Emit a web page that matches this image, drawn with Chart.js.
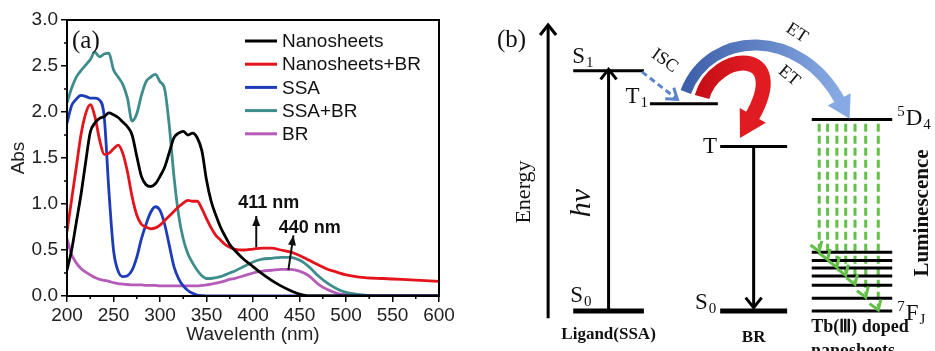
<!DOCTYPE html>
<html>
<head>
<meta charset="utf-8">
<script src="https://cdn.jsdelivr.net/npm/chart.js@4.4.1/dist/chart.umd.min.js"></script>
<style>
  html, body { margin: 0; padding: 0; background: #fff; }
  #wrap { position: relative; width: 935px; height: 351px; overflow: hidden; background: #fff; }
  #spectra { position: absolute; left: 0; top: 0; }
  #levels { position: absolute; left: 470px; top: 0; }
</style>
</head>
<body>
<div id="wrap">
  <canvas id="spectra" width="470" height="351"></canvas>
  <canvas id="levels" width="465" height="351"></canvas>
</div>
<script>
var sans = "'Liberation Sans', Arial, sans-serif";
var serif = "'Liberation Serif', 'Times New Roman', serif";

// ---- (a) absorption spectra ----
var wavelengths = [200,205,210,215,220,225,230,235,240,245,250,255,260,265,270,275,280,285,290,295,
  300,305,310,315,320,325,330,335,340,345,350,355,360,365,370,375,380,
  390,400,410,420,430,440,450,460,470,480,490,500,520,540,560,580,600];

var nanosheets = [0.28,0.50,0.80,1.10,1.45,1.78,1.88,1.93,1.95,1.99,1.97,1.94,1.89,1.84,1.75,1.52,1.30,1.21,1.19,1.22,
  1.30,1.40,1.56,1.72,1.77,1.79,1.75,1.77,1.72,1.58,1.26,1.03,0.88,0.75,0.65,0.56,0.50,
  0.40,0.32,0.24,0.17,0.11,0.06,0.02,0,0,0,0,0,0,0,0,0,0];
var nanosheetsBR = [0.70,1.05,1.40,1.75,1.98,2.08,1.95,1.70,1.54,1.55,1.60,1.64,1.55,1.35,1.08,0.88,0.78,0.75,0.73,0.74,
  0.77,0.82,0.87,0.92,0.97,1.01,1.04,1.03,1.03,0.95,0.84,0.74,0.66,0.61,0.56,0.53,0.51,
  0.50,0.51,0.52,0.52,0.50,0.48,0.44,0.39,0.34,0.29,0.26,0.23,0.20,0.19,0.18,0.17,0.16];
var ssa = [1.88,2.07,2.14,2.18,2.17,2.15,2.15,2.13,1.95,1.15,0.50,0.27,0.21,0.22,0.28,0.42,0.62,0.78,0.91,0.97,
  0.93,0.78,0.55,0.32,0.19,0.11,0.06,0.03,0.01,0.005,0,0,0,0,0,0,0,
  0,0,0,0,0,0,0,0,0,0,0,0,0,0,0,0,0];
var ssaBR = [2.10,2.26,2.38,2.45,2.51,2.57,2.65,2.60,2.63,2.64,2.46,2.38,2.30,2.15,1.90,1.98,2.18,2.33,2.38,2.41,
  2.33,2.25,1.85,1.30,0.88,0.62,0.46,0.36,0.28,0.22,0.19,0.19,0.20,0.21,0.23,0.25,0.27,
  0.32,0.37,0.40,0.41,0.42,0.42,0.39,0.32,0.22,0.14,0.08,0.04,0.01,0,0,0,0];
var br = [0.62,0.45,0.36,0.30,0.26,0.23,0.20,0.18,0.17,0.16,0.145,0.135,0.13,0.125,0.12,0.12,0.12,0.115,0.115,0.115,
  0.11,0.11,0.11,0.11,0.11,0.11,0.11,0.11,0.11,0.115,0.12,0.13,0.14,0.15,0.165,0.18,0.19,
  0.22,0.25,0.27,0.28,0.29,0.29,0.27,0.22,0.13,0.07,0.03,0.015,0.005,0,0,0,0];

var seriesNames = ['Nanosheets', 'Nanosheets+BR', 'SSA', 'SSA+BR', 'BR'];
var seriesValues = [nanosheets, nanosheetsBR, ssa, ssaBR, br];
var seriesColors = ['#000000', '#e3141c', '#1f3cb8', '#3f8c8c', '#b45cb8'];
var peakLabels = ['411 nm', '440 nm'];

// where the peak notes sit, in data units
var peakNotes = [
  { text: peakLabels[0], tx: 417, ty: 1.01, from: [403.5, 0.53], to: [403.5, 0.87] },
  { text: peakLabels[1], tx: 461, ty: 0.74, from: [438, 0.28], to: [443.5, 0.66] }
];

function arrowHead(ctx, tipX, tipY, ang, len, half, filled) {
  var bx = tipX - Math.cos(ang) * len, by = tipY - Math.sin(ang) * len;
  var nx = -Math.sin(ang) * half, ny = Math.cos(ang) * half;
  ctx.beginPath();
  ctx.moveTo(bx + nx, by + ny);
  ctx.lineTo(tipX, tipY);
  ctx.lineTo(bx - nx, by - ny);
  if (filled) { ctx.closePath(); ctx.fill(); } else { ctx.stroke(); }
}

var spectraDecor = {
  id: 'spectraDecor',
  afterDraw: function (chart) {
    var ctx = chart.ctx, a = chart.chartArea;
    var xs = chart.scales.x, ys = chart.scales.y;
    ctx.save();
    ctx.strokeStyle = '#000';
    ctx.lineWidth = 2;
    ctx.strokeRect(a.left, a.top, a.right - a.left, a.bottom - a.top);

    // minor ticks
    ctx.lineWidth = 1.5;
    ctx.beginPath();
    for (var v = 225; v < 600; v += 50) {
      var px = xs.getPixelForValue(v);
      ctx.moveTo(px, a.bottom); ctx.lineTo(px, a.bottom + 3);
    }
    for (var w = 0.25; w < 3; w += 0.5) {
      var py = ys.getPixelForValue(w);
      ctx.moveTo(a.left, py); ctx.lineTo(a.left - 3, py);
    }
    ctx.stroke();

    // legend
    ctx.font = '19px ' + sans;
    ctx.textBaseline = 'middle';
    ctx.textAlign = 'left';
    chart.data.datasets.forEach(function (ds, i) {
      var y = a.top + 21 + i * 23.2;
      ctx.strokeStyle = ds.borderColor;
      ctx.lineWidth = 3;
      ctx.beginPath();
      ctx.moveTo(a.left + 178, y); ctx.lineTo(a.left + 210, y);
      ctx.stroke();
      ctx.fillStyle = '#111';
      ctx.fillText(ds.label, a.left + 215, y + 1);
    });

    // peak notes
    ctx.fillStyle = '#111';
    ctx.strokeStyle = '#111';
    peakNotes.forEach(function (n) {
      var x0 = xs.getPixelForValue(n.from[0]), y0 = ys.getPixelForValue(n.from[1]);
      var x1 = xs.getPixelForValue(n.to[0]), y1 = ys.getPixelForValue(n.to[1]);
      ctx.lineWidth = 2;
      ctx.beginPath(); ctx.moveTo(x0, y0); ctx.lineTo(x1, y1); ctx.stroke();
      arrowHead(ctx, x1, y1, Math.atan2(y1 - y0, x1 - x0), 10, 4, true);
      ctx.font = 'bold 18px ' + sans;
      ctx.textAlign = 'center';
      ctx.fillText(n.text, xs.getPixelForValue(n.tx), ys.getPixelForValue(n.ty));
    });

    // panel letter
    ctx.font = '25px ' + serif;
    ctx.textAlign = 'left';
    ctx.textBaseline = 'alphabetic';
    ctx.fillText('(a)', a.left + 5, a.top + 28);
    ctx.restore();
  }
};

new Chart(document.getElementById('spectra'), {
  type: 'line',
  data: {
    datasets: seriesNames.map(function (name, i) {
      return {
        label: name,
        data: wavelengths.map(function (wl, j) { return { x: wl, y: seriesValues[i][j] }; }),
        borderColor: seriesColors[i],
        borderWidth: 2.8,
        pointRadius: 0,
        cubicInterpolationMode: 'monotone'
      };
    })
  },
  options: {
    responsive: false,
    animation: false,
    events: [],
    layout: { padding: { left: 0, top: 20, right: 31, bottom: 0 } },
    plugins: { legend: { display: false }, tooltip: { enabled: false } },
    scales: {
      x: {
        type: 'linear', min: 200, max: 600,
        afterFit: function (s) { s.height = 55; },
        ticks: { stepSize: 50, color: '#222', font: { family: sans, size: 19 }, padding: 2, maxRotation: 0 },
        grid: { drawOnChartArea: false, tickLength: 6, color: '#000', lineWidth: 1.5 },
        border: { color: '#000', width: 2 },
        title: { display: true, text: 'Wavelenth (nm)', color: '#222', font: { family: sans, size: 19 }, padding: { top: 0, bottom: 5 } }
      },
      y: {
        min: 0, max: 3,
        afterFit: function (s) { s.width = 67; },
        ticks: { stepSize: 0.5, color: '#222', font: { family: sans, size: 19 }, padding: 3,
          callback: function (v) { return v.toFixed(1); } },
        grid: { drawOnChartArea: false, tickLength: 6, color: '#000', lineWidth: 1.5 },
        border: { color: '#000', width: 2 },
        title: { display: true, text: 'Abs', color: '#222', font: { family: sans, size: 19 }, padding: { top: 7, bottom: 0 } }
      }
    }
  },
  plugins: [spectraDecor]
});

// ---- (b) energy level diagram, arbitrary energy units ----
var ligandLevels = [8.4, 0];       // S1, S0 of SSA
var tripletLevel = [7.25];         // T1
var brLevels = [5.75, 0];          // T, S0 of BR
var tbExcited = [6.7];             // 5D4
var tbGround = [2.05, 1.77, 1.5, 1.22, 0.9, 0.45, 0]; // 7FJ manifold
var energyTop = 10;

// column layout on a 0..100 horizontal scale
var cols = { ligand: [22.2, 37.4], triplet: [38.7, 53.3], br: [53.8, 68.2], tb: [73.5, 90.8] };
var axisX = 16.8;
var emissionX = [75.1, 76.9, 78.9, 80.8, 82.8, 85.1, 87.8];
var green = '#62bf48';

function mid(c) { return (c[0] + c[1]) / 2; }
function levelSet(c, e, width) {
  return { data: [{ x: c[0], y: e }, { x: c[1], y: e }], borderColor: '#000', borderWidth: width,
    showLine: true, pointRadius: 0, clip: false };
}

var levelSets = [
  levelSet(cols.ligand, ligandLevels[0], 3),
  levelSet(cols.ligand, ligandLevels[1], 5),
  levelSet(cols.triplet, tripletLevel[0], 3),
  levelSet(cols.br, brLevels[0], 3),
  levelSet(cols.br, brLevels[1], 5),
  levelSet(cols.tb, tbExcited[0], 3)
];
tbGround.forEach(function (e) { levelSets.push(levelSet(cols.tb, e, 3)); });

// vertical arrows: energy axis, absorption hv, BR decay
var vArrows = [
  { x: axisX, from: -0.25, to: energyTop },
  { x: mid(cols.ligand), from: ligandLevels[1], to: ligandLevels[0] + 0.05 },
  { x: mid(cols.br), from: brLevels[0], to: brLevels[1] + 0.12 }
];
vArrows.forEach(function (v) {
  levelSets.push({ data: [{ x: v.x, y: v.from }, { x: v.x, y: v.to }], borderColor: '#000', borderWidth: 3,
    showLine: true, pointRadius: 0, clip: false });
});
emissionX.forEach(function (x, i) {
  levelSets.push({ data: [{ x: x, y: tbExcited[0] - 0.15 }, { x: x, y: tbGround[i] + 0.15 }],
    borderColor: green, borderWidth: 3, borderDash: [8, 4], showLine: true, pointRadius: 0, clip: false });
});

// curved transfer arrows (bezier control points in diagram units)
var transfers = [
  { pts: [[46.4, 7.66], [51.6, 9.85], [71.0, 9.95], [79.6, 7.34]], width: 11, head: [20, 13], colors: ['#3c5fa9', '#88aae4'] },
  { pts: [[49.9, 7.48], [52.7, 9.1], [69.2, 9.25], [60.6, 6.78]], width: 15, head: [24, 15], colors: ['#c80f17', '#e01b22'] }
];
var isc = { from: [37.0, 8.36], to: [44.6, 7.4] };

function levelLabel(ctx, x, y, pre, main, sub, align) {
  var big = '23px ' + serif, small = '15px ' + serif;
  ctx.font = small;
  var wPre = pre ? ctx.measureText(pre).width + 1 : 0;
  var wSub = sub ? ctx.measureText(sub).width + 1 : 0;
  ctx.font = big;
  var wMain = ctx.measureText(main).width;
  var sx = align === 'right' ? x - (wPre + wMain + wSub) : x;
  ctx.textAlign = 'left';
  ctx.textBaseline = 'alphabetic';
  if (pre) { ctx.font = small; ctx.fillText(pre, sx, y - 9); sx += wPre; }
  ctx.font = big; ctx.fillText(main, sx, y); sx += wMain + 1;
  if (sub) { ctx.font = small; ctx.fillText(sub, sx, y + 4); }
}

function rotText(ctx, text, x, y, ang, font) {
  ctx.save();
  ctx.translate(x, y);
  ctx.rotate(ang);
  ctx.font = font;
  ctx.textAlign = 'center';
  ctx.textBaseline = 'middle';
  ctx.fillText(text, 0, 0);
  ctx.restore();
}

var diagramDecor = {
  id: 'diagramDecor',
  afterDraw: function (chart) {
    var ctx = chart.ctx, xs = chart.scales.x, ys = chart.scales.y;
    function X(v) { return xs.getPixelForValue(v); }
    function Y(v) { return ys.getPixelForValue(v); }
    ctx.save();
    ctx.lineCap = 'butt';

    // chevron heads for the vertical arrows
    ctx.strokeStyle = '#000';
    ctx.lineWidth = 3;
    vArrows.forEach(function (v) {
      var y0 = Y(v.from), y1 = Y(v.to);
      arrowHead(ctx, X(v.x), y1, y1 < y0 ? -Math.PI / 2 : Math.PI / 2, 10, 8, false);
    });
    ctx.strokeStyle = green;
    ctx.lineWidth = 3;
    emissionX.forEach(function (x, i) {
      arrowHead(ctx, X(x), Y(tbGround[i]) - 1, Math.PI / 2 - 0.35, 9, 6, false);
    });

    // curved energy transfer arrows
    transfers.forEach(function (t) {
      var p = t.pts.map(function (q) { return [X(q[0]), Y(q[1])]; });
      var grad = ctx.createLinearGradient(p[0][0], 0, p[3][0], 0);
      grad.addColorStop(0, t.colors[0]);
      grad.addColorStop(1, t.colors[1]);
      ctx.strokeStyle = grad;
      ctx.fillStyle = t.colors[1];
      ctx.lineWidth = t.width;
      ctx.beginPath();
      ctx.moveTo(p[0][0], p[0][1]);
      ctx.bezierCurveTo(p[1][0], p[1][1], p[2][0], p[2][1], p[3][0], p[3][1]);
      ctx.stroke();
      var ang = Math.atan2(p[3][1] - p[2][1], p[3][0] - p[2][0]);
      var tipX = p[3][0] + Math.cos(ang) * t.head[0], tipY = p[3][1] + Math.sin(ang) * t.head[0];
      arrowHead(ctx, tipX, tipY, ang, t.head[0] + 2, t.head[1], true);
    });

    // ISC dashed arrow
    var ix0 = X(isc.from[0]), iy0 = Y(isc.from[1]), ix1 = X(isc.to[0]), iy1 = Y(isc.to[1]);
    ctx.strokeStyle = '#5b84cc';
    ctx.lineWidth = 3;
    ctx.setLineDash([6, 4]);
    ctx.beginPath(); ctx.moveTo(ix0, iy0); ctx.lineTo(ix1, iy1); ctx.stroke();
    ctx.setLineDash([]);
    arrowHead(ctx, ix1, iy1, Math.atan2(iy1 - iy0, ix1 - ix0), 10, 7, false);

    // labels
    ctx.fillStyle = '#111';
    ctx.font = '25px ' + serif;
    ctx.textAlign = 'left';
    ctx.textBaseline = 'alphabetic';
    ctx.fillText('(b)', 27, 47);

    levelLabel(ctx, X(cols.ligand[0]) - 1, Y(ligandLevels[0]) - 8, '', 'S', '1');
    levelLabel(ctx, X(cols.ligand[0]) - 3, Y(ligandLevels[1]) - 9, '', 'S', '0');
    levelLabel(ctx, X(cols.triplet[0]) - 2, Y(tripletLevel[0]) - 1, '', 'T', '1', 'right');
    levelLabel(ctx, X(cols.br[0]) - 3, Y(brLevels[0]) + 6, '', 'T', '', 'right');
    levelLabel(ctx, X(cols.br[0]) - 4, Y(brLevels[1]) - 2, '', 'S', '0', 'right');
    levelLabel(ctx, X(cols.tb[1]) + 5, Y(tbExcited[0]) + 6, '5', 'D', '4');
    levelLabel(ctx, X(cols.tb[1]) + 5, Y(tbGround[tbGround.length - 1]) + 9, '7', 'F', 'J');

    rotText(ctx, 'Energy', X(axisX) - 24, 192, -Math.PI / 2, '22px ' + serif);
    rotText(ctx, 'hv', X(mid(cols.ligand)) - 26, 203, -Math.PI / 2, 'italic 30px ' + serif);
    rotText(ctx, 'ISC', (ix0 + ix1) / 2 + 5, iy0 - 11, 0.62, '18px ' + serif);
    rotText(ctx, 'ET', X(70.3), 33, 0.58, '18px ' + serif);
    rotText(ctx, 'ET', X(68.6), 76, 0.7, '18px ' + serif);
    rotText(ctx, 'Luminescence', X(cols.tb[1]) + 30, 213, -Math.PI / 2, 'bold 21px ' + serif);

    ctx.font = 'bold 17px ' + serif;
    ctx.textAlign = 'center';
    ctx.textBaseline = 'middle';
    ctx.fillText('Ligand(SSA)', X(mid(cols.ligand)), Y(0) + 24);
    ctx.fillText('BR', X(mid(cols.br)), Y(0) + 27);
    ctx.font = 'bold 18px ' + serif;
    ctx.fillText('Tb(\u2162) doped', X(mid(cols.tb)) + 8, Y(0) + 16);
    ctx.textBaseline = 'alphabetic';
    ctx.fillText('nanosheets', X(mid(cols.tb)) + 1, Y(0) + 45);
    ctx.restore();
  }
};

new Chart(document.getElementById('levels'), {
  type: 'scatter',
  data: { datasets: levelSets },
  options: {
    responsive: false,
    animation: false,
    events: [],
    layout: { padding: { left: 0, right: 0, top: 25, bottom: 40 } },
    plugins: { legend: { display: false }, tooltip: { enabled: false } },
    scales: {
      x: { type: 'linear', min: 0, max: 100, display: false },
      y: { type: 'linear', min: 0, max: energyTop, display: false }
    }
  },
  plugins: [diagramDecor]
});
</script>
</body>
</html>
